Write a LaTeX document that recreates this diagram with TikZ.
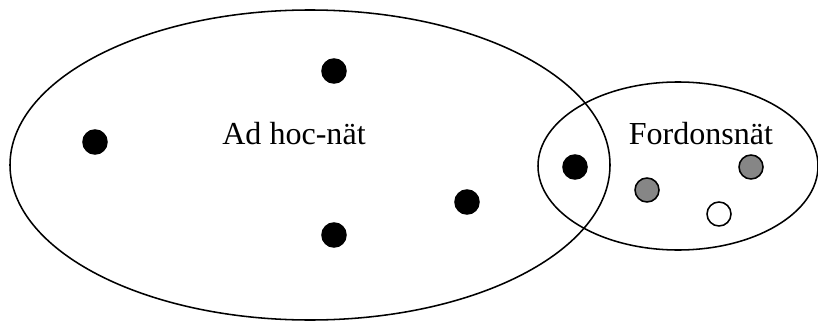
\documentclass[tikz,border=0pt]{standalone}
\usepackage{fontspec}
\setmainfont{Liberation Serif}
\usepackage{tikz}
\usetikzlibrary{shapes.geometric}

\begin{document}
\begin{tikzpicture}[
    net/.style={draw, ellipse, line width=1.1pt, inner sep=0pt},
    label/.style={anchor=base, inner sep=0pt, font=\fontsize{22.8}{27}\selectfont},
    node/.style={circle, draw, line width=1.1pt, inner sep=0pt, minimum size=0.6cm},
    blacknode/.style={node, fill=black},
    graynode/.style={node, fill=gray!95},
    whitenode/.style={node, fill=white}
]
\useasboundingbox (0,0) rectangle (20.45,8.05);

% the two networks
\node[net, minimum width=15cm, minimum height=7.75cm] (adhoc) at (7.75,3.925) {};
\node[net, minimum width=7cm, minimum height=4.2cm] (fordon) at (16.95,3.9) {};

\node[label] (adhoclabel) at (7.35,4.425) {Ad hoc-nät};
\node[label] (fordonlabel) at (17.525,4.425) {Fordonsnät};

% ad hoc nodes
\node[blacknode] (a1) at (8.35,6.275) {};
\node[blacknode] (a2) at (2.375,4.5) {};
\node[blacknode] (a3) at (14.375,3.875) {};
\node[blacknode] (a4) at (11.675,3.0) {};
\node[blacknode] (a5) at (8.35,2.175) {};

% vehicles
\node[graynode] (v1) at (16.175,3.3) {};
\node[graynode] (v2) at (18.775,3.875) {};
\node[whitenode] (v3) at (17.975,2.7) {};
\end{tikzpicture}
\end{document}
